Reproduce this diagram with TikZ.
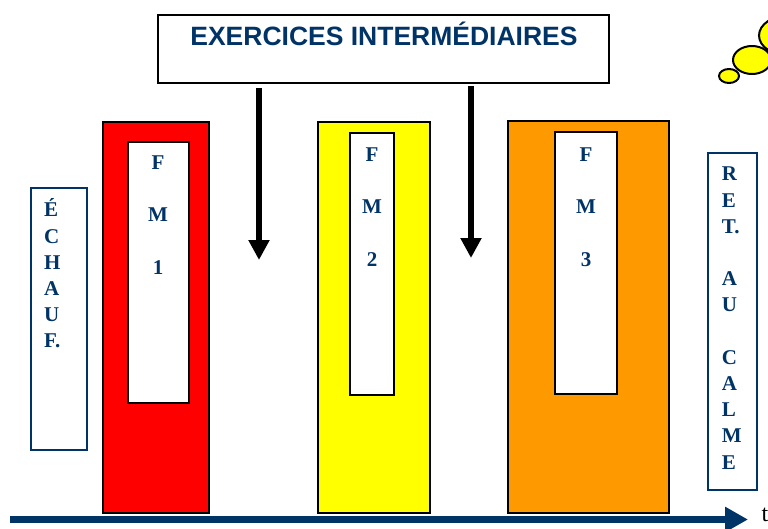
\documentclass[tikz,border=0pt]{standalone}
\usepackage{fontspec}
\setmainfont{Liberation Serif}
\newfontfamily\titlefont{Liberation Sans}
\usepackage{tikz}
\usetikzlibrary{shapes.geometric, arrows.meta}
\definecolor{navy}{HTML}{003366}
\definecolor{fmorange}{HTML}{FF9900}
\definecolor{fmyellow}{HTML}{FFFF00}
\definecolor{fmred}{HTML}{FF0000}
\tikzstyle{block} = [rectangle, anchor=north west, draw=black, line width=2pt, inner sep=0pt, outer sep=0pt]
\tikzstyle{side} = [rectangle, anchor=north west, draw=navy, line width=1.5pt, fill=white, inner sep=0pt, outer sep=0pt]
\tikzstyle{letters} = [anchor=north west, align=left, inner sep=0pt, text=navy, font=\fontsize{21}{26.2}\selectfont\bfseries]
\tikzstyle{fmletters} = [letters, anchor=north, align=center]
\tikzstyle{arrow} = [line width=6pt, -{Triangle[length=20pt,width=20pt]}]
\tikzstyle{puff} = [ellipse, draw=black, line width=2pt, fill=fmyellow, inner sep=0pt, outer sep=0pt]
\begin{document}
\begin{tikzpicture}[x=1pt,y=-1pt]
        \useasboundingbox (0,0) rectangle (768,528);
        \node (title) [block, minimum width=451pt, minimum height=68pt, fill=white] at (158,15) {};
        \node (titletext) [text=navy, font=\titlefont\fontsize{26.5}{30}\selectfont\bfseries, inner sep=0pt] at (384,34) {EXERCICES INTERMÉDIAIRES};
        % phases
        \node (fm1) [block, minimum width=106pt, minimum height=391pt, fill=fmred] at (103,122) {};
        \node (fm1in) [block, minimum width=61pt, minimum height=261pt, fill=white] at (128,142) {};
        \node (fm2) [block, minimum width=112pt, minimum height=391pt, fill=fmyellow] at (318,122) {};
        \node (fm2in) [block, minimum width=44pt, minimum height=262pt, fill=white] at (350,133) {};
        \node (fm3) [block, minimum width=161pt, minimum height=392pt, fill=fmorange] at (508,121) {};
        \node (fm3in) [block, minimum width=62pt, minimum height=262pt, fill=white] at (555,132) {};
        \node (fm1text) [fmletters] at (158,150.7) {\strut F\\[26.2pt]M\\[26.2pt]1};
        \node (fm2text) [fmletters] at (372,142.7) {\strut F\\[26.2pt]M\\[26.2pt]2};
        \node (fm3text) [fmletters] at (586,142.7) {\strut F\\[26.2pt]M\\[26.2pt]3};
        % warm up and cool down
        \node (warm) [side, minimum width=56pt, minimum height=262pt] at (31,188) {};
        \node (warmtext) [letters] at (44,198.4) {\strut É\\C\\H\\A\\U\\F.};
        \node (cool) [side, minimum width=49pt, minimum height=337pt] at (708,153) {};
        \node (cooltext) [letters] at (721.7,162.4) {\strut R\\E\\T.\\[26.2pt]A\\U\\[26.2pt]C\\A\\L\\M\\E};
        % exercises
        \coordinate (a1) at (259,88);
        \coordinate (b1) at (259,260);
        \coordinate (a2) at (471,86);
        \coordinate (b2) at (471,258);
        \draw [arrow] (a1) -- (b1);
        \draw [arrow] (a2) -- (b2);
        % time
        \coordinate (t0) at (10,519.5);
        \coordinate (t1) at (748,519.5);
        \draw [line width=7.5pt, navy, -{Triangle[length=23pt,width=24pt]}] (t0) -- (t1);
        \node (tlabel) [font=\fontsize{24}{26}\selectfont, inner sep=0pt] at (765,515) {t};
        % cloud
        \begin{scope}
            \clip (0,0) rectangle (768,528);
            \node (cloud3) [puff, minimum width=62pt, minimum height=41pt] at (790,35.5) {};
            \node (cloud2) [puff, minimum width=38pt, minimum height=28pt] at (752,60) {};
            \node (cloud1) [puff, minimum width=20pt, minimum height=14pt] at (729,76) {};
        \end{scope}
\end{tikzpicture}
\end{document}
